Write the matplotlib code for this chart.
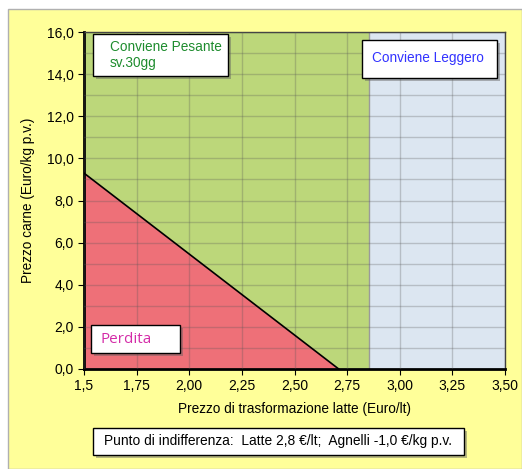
import matplotlib
matplotlib.use("Agg")
import matplotlib.pyplot as plt
from matplotlib.patches import Rectangle
from matplotlib.ticker import MultipleLocator, FuncFormatter

# data
loss_x = [1.5, 2.71]          # indifference line, carne vs latte
loss_y = [9.3, 0.0]
boundary_x = 2.855            # above this price the light lamb wins
x_min, x_max = 1.5, 3.5
y_min, y_max = 0.0, 16.0
x_ticks = [1.5, 1.75, 2.0, 2.25, 2.5, 2.75, 3.0, 3.25, 3.5]
x_tick_labels = ["1,5", "1,75", "2,00", "2,25", "2,50", "2,75", "3,00", "3,25", "3,50"]
label_pesante = "Conviene Pesante\nsv.30gg"
label_leggero = "Conviene Leggero"
label_perdita = "Perdita"
label_punto = "Punto di indifferenza:  Latte 2,8 \u20ac/lt;  Agnelli -1,0 \u20ac/kg p.v."

W, H = 522, 469
plt.rcParams["font.family"] = ["Liberation Sans", "DejaVu Sans"]

fig = plt.figure(figsize=(W / 100, H / 100), dpi=100)
fig.patch.set_facecolor("white")


def fx(px):
    return px / W


def fy(py):
    return 1 - py / H


# yellow chart area
fig.patches.append(Rectangle((fx(8), 0), 1 - fx(8), fy(9), transform=fig.transFigure,
                             facecolor="#ffff99", edgecolor="#b0b0b0", lw=1, zorder=-1))

ax = fig.add_axes([fx(84), fy(369), fx(505) - fx(84), fy(32) - fy(369)])
ax.set_zorder(1)
ax.set_xlim(x_min, x_max)
ax.set_ylim(y_min, y_max)

# regions
ax.fill_between([x_min, boundary_x], y_min, y_max, color="#bcd77a", lw=0, zorder=1)
ax.fill_between([boundary_x, x_max], y_min, y_max, color="#dce6f1", lw=0, zorder=1)
ax.fill_between(loss_x, loss_y, y_min, color="#ee7078", lw=0, zorder=1)
ax.plot(loss_x, loss_y, color="black", lw=1.2, zorder=3)
ax.axvline(boundary_x, color="#9a9a9a", lw=1, zorder=2)

ax.set_xticks(x_ticks)
ax.set_xticklabels(x_tick_labels)
ax.yaxis.set_major_locator(MultipleLocator(2))
ax.yaxis.set_minor_locator(MultipleLocator(1))
ax.yaxis.set_major_formatter(FuncFormatter(lambda v, p: f"{v:.1f}".replace(".", ",")))
ax.grid(True, which="both", axis="y", color="#555555", alpha=0.28, lw=1, zorder=2)
ax.grid(True, which="major", axis="x", color="#555555", alpha=0.28, lw=1, zorder=2)
ax.set_axisbelow(False)
ax.tick_params(labelsize=10, length=4, direction="out", colors="black", which="major")
ax.tick_params(which="minor", length=0)

for s in ["left", "bottom"]:
    ax.spines[s].set_linewidth(2)
    ax.spines[s].set_color("black")
for s in ["top", "right"]:
    ax.spines[s].set_linewidth(1)
    ax.spines[s].set_color("#404040")

ax.set_xlabel("Prezzo di trasformazione latte (Euro/lt)", fontsize=9.8, labelpad=6)
ax.set_ylabel("Prezzo carne (Euro/kg p.v.)", fontsize=9.8, labelpad=8)


def box(x0, y0, x1, y1):
    fig.patches.append(Rectangle((fx(x0 + 3), fy(y1 + 3)), fx(x1 - x0), fy(y0) - fy(y1),
                                 transform=fig.transFigure, facecolor="#606060", alpha=0.45,
                                 edgecolor="none", zorder=5))
    fig.patches.append(Rectangle((fx(x0), fy(y1)), fx(x1 - x0), fy(y0) - fy(y1),
                                 transform=fig.transFigure, facecolor="white",
                                 edgecolor="black", lw=1, zorder=6))


box(93, 34, 228, 76)
fig.text(fx(110), fy(55), label_pesante, color="#1e8c2e", fontsize=9.8, va="center",
         ha="left", linespacing=1.15, zorder=7)

box(362, 40, 497, 78)
fig.text(fx(428), fy(58), label_leggero, color="#3333ff", fontsize=9.8, va="center",
         ha="center", zorder=7)

box(91, 325, 180, 353)
fig.text(fx(101), fy(339), label_perdita, color="#d42ca8", fontsize=11,
         family=["Open Sans", "DejaVu Sans"], va="center", ha="left", zorder=7)

box(93, 428, 464, 455)
fig.text(fx(278), fy(441), label_punto, color="black", fontsize=9.9, va="center",
         ha="center", zorder=7)

fig.savefig("out.png", dpi=100)
